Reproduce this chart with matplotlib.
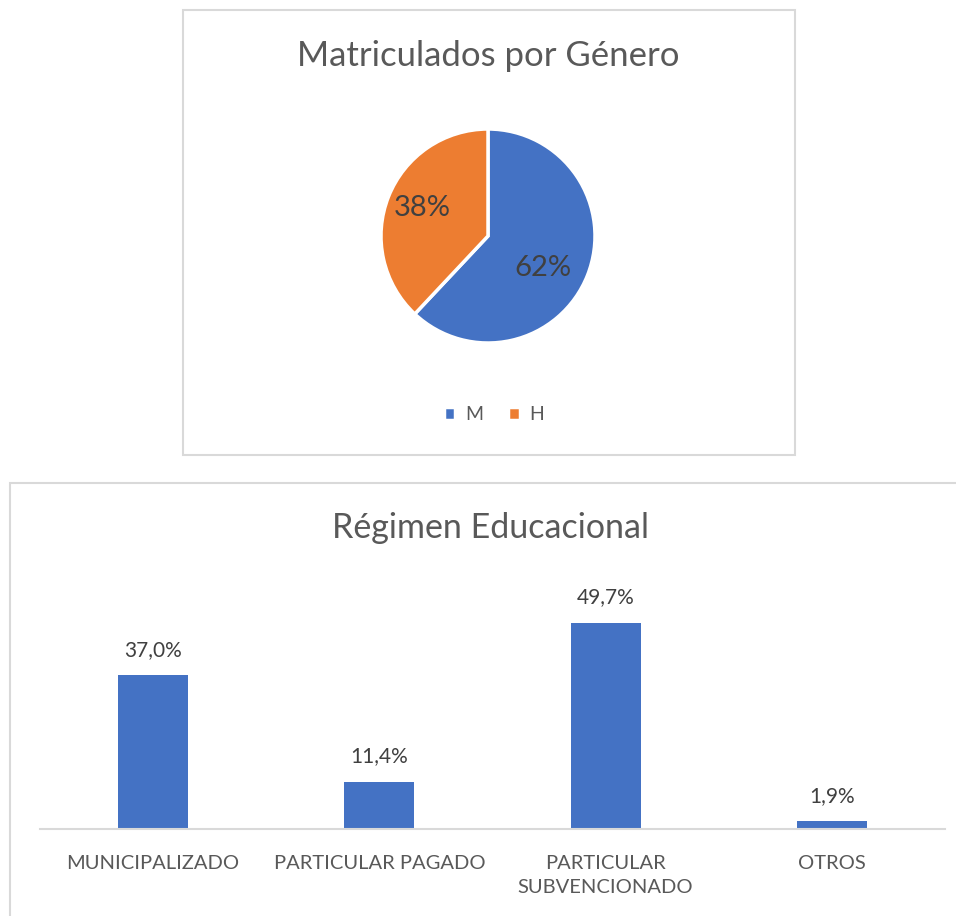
import matplotlib
matplotlib.use("Agg")
import matplotlib.pyplot as plt
from matplotlib.patches import Rectangle

plt.rcParams['font.family'] = ['Lato', 'DejaVu Sans']

# ---- data ----
pie_labels = ["M", "H"]
pie_values = [62, 38]
pie_title = "Matriculados por Género"

bar_categories = ["MUNICIPALIZADO", "PARTICULAR PAGADO", "PARTICULAR\nSUBVENCIONADO", "OTROS"]
bar_values = [37.0, 11.4, 49.7, 1.9]
bar_title = "Régimen Educacional"

BLUE = "#4472C4"
ORANGE = "#ED7D31"
GREY = "#595959"
BORDER = "#D9D9D9"

W, H = 956, 916
fig = plt.figure(figsize=(W / 100, H / 100), dpi=100)
fig.patch.set_facecolor("white")

def fx(x):
    return x / W

def fy(y):
    return 1 - y / H

# chart borders
fig.patches.append(Rectangle((fx(183), fy(455)), fx(795) - fx(183), fy(10) - fy(455),
                             transform=fig.transFigure, fill=False, edgecolor=BORDER, lw=1.5))
fig.patches.append(Rectangle((fx(10), fy(925)), fx(970) - fx(10), fy(483) - fy(925),
                             transform=fig.transFigure, fill=False, edgecolor=BORDER, lw=1.5))

# ---- pie ----
cx, cy, r = 488, 236, 107
axp = fig.add_axes([fx(cx - r), fy(cy + r), (2 * r) / W, (2 * r) / H])
wedges, texts, autotexts = axp.pie(
    pie_values, colors=[BLUE, ORANGE], startangle=90, counterclock=False,
    autopct=lambda p: f"{p:.0f}%", pctdistance=0.62,
    wedgeprops=dict(edgecolor="white", linewidth=2.5),
    textprops=dict(color="#404040", fontsize=21))
autotexts[0].set_position((0.51, -0.30))
autotexts[1].set_position((-0.61, 0.26))
axp.set_xlim(-1, 1)
axp.set_ylim(-1, 1)
axp.set_aspect("equal")

fig.text(fx(488), fy(56), pie_title, ha="center", va="center", fontsize=25, color=GREY)
fig.legend(wedges, pie_labels, loc="center", bbox_to_anchor=(fx(494), fy(415)),
           ncol=2, frameon=False, fontsize=14, labelcolor=GREY,
           handlelength=0.6, handleheight=0.6, handletextpad=0.5, columnspacing=1.3)

# ---- bars ----
axb = fig.add_axes([fx(40), fy(829), (945 - 40) / W, (829 - 580) / H])
x = list(range(len(bar_categories)))
bars = axb.bar(x, bar_values, width=0.31, color=BLUE)
axb.set_xlim(-0.5, len(bar_categories) - 0.5)
axb.set_ylim(0, 60)
for b, v in zip(bars, bar_values):
    axb.annotate(f"{v:.1f}%".replace(".", ","), (b.get_x() + b.get_width() / 2, v),
                 xytext=(0, 11), textcoords="offset points", ha="center", va="bottom",
                 fontsize=15, color="#404040")
axb.set_xticks(x)
axb.set_xticklabels(bar_categories, fontsize=14.5, color=GREY, linespacing=1.45, va="top")
axb.tick_params(axis="x", length=0, pad=19)
axb.set_yticks([])
for s in ["top", "right", "left"]:
    axb.spines[s].set_visible(False)
axb.spines["bottom"].set_color(BORDER)
axb.spines["bottom"].set_linewidth(1.5)

fig.text(fx(490), fy(528), bar_title, ha="center", va="center", fontsize=24.5, color=GREY)

fig.savefig("out.png", dpi=100, facecolor="white")
